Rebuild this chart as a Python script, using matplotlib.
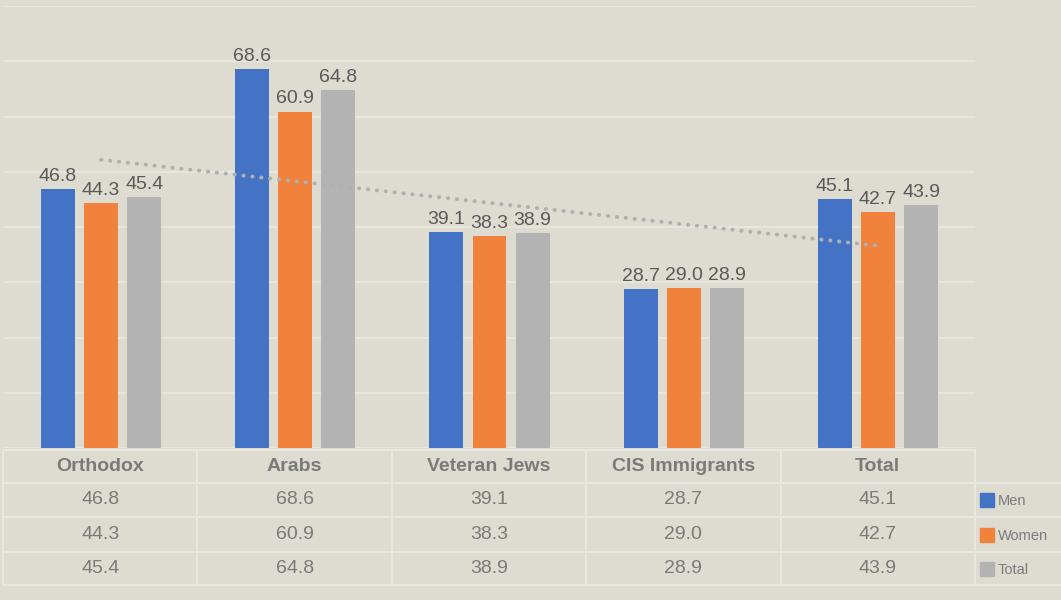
import numpy as np
import matplotlib
matplotlib.use("Agg")
import matplotlib.pyplot as plt
from matplotlib.patches import Rectangle

categories = ["Orthodox", "Arabs", "Veteran Jews", "CIS Immigrants", "Total"]
series_names = ["Men", "Women", "Total"]
men = [46.8, 68.6, 39.1, 28.7, 45.1]
women = [44.3, 60.9, 38.3, 29.0, 42.7]
total = [45.4, 64.8, 38.9, 28.9, 43.9]

colors = ["#4472C4", "#F0823C", "#B3B3B3"]
bg = "#DEDCD0"
grid_c = "#E8E7E0"
label_c = "#595959"
table_c = "#7A7A7A"

plt.rcParams["font.family"] = ["Liberation Sans", "DejaVu Sans"]

W, H = 1061, 600
fig = plt.figure(figsize=(W / 100, H / 100), dpi=100, facecolor=bg)


def fx(px):
    return px / W


def fy(py):
    return 1 - py / H


# main bar axes
ax = fig.add_axes([fx(4), fy(448), fx(975 - 4), fy(6) - fy(448)])
ax.set_facecolor(bg)
ax.set_xlim(-0.5, 4.5)
ax.set_ylim(0, 80)
ax.set_yticks(np.arange(0, 81, 10))
ax.yaxis.grid(True, color=grid_c, linewidth=1.3)
ax.set_axisbelow(True)
ax.tick_params(left=False, bottom=False, labelleft=False, labelbottom=False)
for s in ax.spines.values():
    s.set_visible(False)

x = np.arange(len(categories))
width = 0.175
step = 0.222
for i, (vals, c) in enumerate(zip([men, women, total], colors)):
    bars = ax.bar(x + (i - 1) * step, vals, width, color=c)
    ax.bar_label(bars, labels=[f"{v:.1f}" for v in vals], padding=3,
                 fontsize=14, color=label_c)

# linear trend of Total series
coef = np.polyfit(x, total, 1)
ax.plot(x, np.polyval(coef, x), linestyle=(0, (0.1, 2.2)), dash_capstyle="round",
        color="#B0B0B0", linewidth=2.8)

# data table below
tab = fig.add_axes([0, 0, 1, 1])
tab.set_xlim(0, W)
tab.set_ylim(H, 0)
tab.axis("off")
tab.patch.set_alpha(0)

col_edges = np.linspace(3, 975, len(categories) + 1)
row_edges = [450, 483, 517, 552, 585]
line_kw = dict(color="#E8E7E2", linewidth=1.5)
tab.plot([col_edges[0], col_edges[-1]], [row_edges[0]] * 2, **line_kw)
for r in row_edges[1:]:
    tab.plot([col_edges[0], W], [r, r], **line_kw)
for c in col_edges:
    tab.plot([c, c], [row_edges[0], row_edges[-1]], **line_kw)

for j, cat in enumerate(categories):
    cx = (col_edges[j] + col_edges[j + 1]) / 2
    tab.text(cx, (row_edges[0] + row_edges[1]) / 2, cat, ha="center", va="center",
             fontsize=14, fontweight="bold", color=table_c)
    for k, vals in enumerate([men, women, total]):
        tab.text(cx, (row_edges[k + 1] + row_edges[k + 2]) / 2, f"{vals[j]:.1f}",
                 ha="center", va="center", fontsize=14, color=table_c)

for k, (name, c) in enumerate(zip(series_names, colors)):
    cy = (row_edges[k + 1] + row_edges[k + 2]) / 2
    tab.add_patch(Rectangle((980, cy - 7), 14, 14, color=c))
    tab.text(998, cy + 1, name, ha="left", va="center", fontsize=10.5, color=table_c)

fig.savefig("out.png", dpi=100, facecolor=bg)
